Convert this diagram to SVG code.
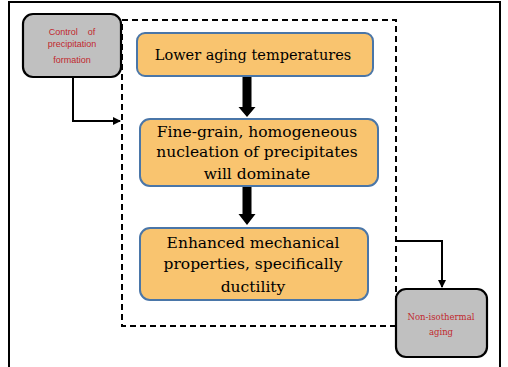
<svg xmlns="http://www.w3.org/2000/svg" width="508" height="367" viewBox="0 0 508 367">
<style>
.step{fill:#f9c46f;stroke:#4a76a8;stroke-width:2}
.side{fill:#c0c0c0;stroke:#000;stroke-width:2.2}
.t{font-family:'DejaVu Serif',serif;font-size:15.5px;fill:#000;text-anchor:middle}
.rs{font-family:'Liberation Sans',Arial,sans-serif;font-size:9px;fill:#c0282d;text-anchor:middle}
.rt{font-family:'DejaVu Serif',serif;font-size:8.5px;fill:#c0282d;text-anchor:middle}
.conn{fill:none;stroke:#000;stroke-width:2}
</style>
<defs>
<marker id="ah" markerWidth="8" markerHeight="8" refX="7" refY="4" orient="auto" markerUnits="userSpaceOnUse">
<path d="M0,0 L8,4 L0,8 Z" fill="#000"/>
</marker>
</defs>
<rect x="9" y="2" width="491" height="380" fill="#fff" stroke="#000" stroke-width="2"/>
<rect id="group-box" x="122" y="20" width="274" height="306" fill="none" stroke="#000" stroke-width="2" stroke-dasharray="6,4"/>
<g id="connectors">
<path class="conn" d="M73,77 V121 H120" marker-end="url(#ah)"/>
<path class="conn" d="M397,241 H442 V287" marker-end="url(#ah)"/>
<path d="M242.5,76 V107 H238.5 L247,117 L255.5,107 H251.5 V76 Z" fill="#000"/>
<path d="M242.5,186 V214 H238.5 L247,225 L255.5,214 H251.5 V186 Z" fill="#000"/>
</g>
<g id="control">
<rect class="side" x="23" y="14" width="98" height="63" rx="10"/>
<text class="rs" x="72" y="35" xml:space="preserve">Control    of</text>
<text class="rs" x="72" y="47">precipitation</text>
<text class="rs" x="72" y="63">formation</text>
</g>
<g id="step1">
<rect class="step" x="137" y="33" width="236" height="43" rx="8"/>
<text class="t" x="253" y="60" style="font-size:14.5px">Lower aging temperatures</text>
</g>
<g id="step2">
<rect class="step" x="140" y="119" width="238" height="67" rx="10"/>
<text class="t" x="257" y="137">Fine-grain, homogeneous</text>
<text class="t" x="257" y="157">nucleation of precipitates</text>
<text class="t" x="257" y="179">will dominate</text>
</g>
<g id="step3">
<rect class="step" x="140" y="228" width="228" height="72" rx="10"/>
<text class="t" x="253" y="248">Enhanced mechanical</text>
<text class="t" x="253" y="269">properties, specifically</text>
<text class="t" x="253" y="292">ductility</text>
</g>
<g id="nonisothermal">
<rect class="side" x="396" y="289" width="91" height="68" rx="10"/>
<text class="rt" x="441" y="320">Non-isothermal</text>
<text class="rt" x="441" y="335">aging</text>
</g>
</svg>
